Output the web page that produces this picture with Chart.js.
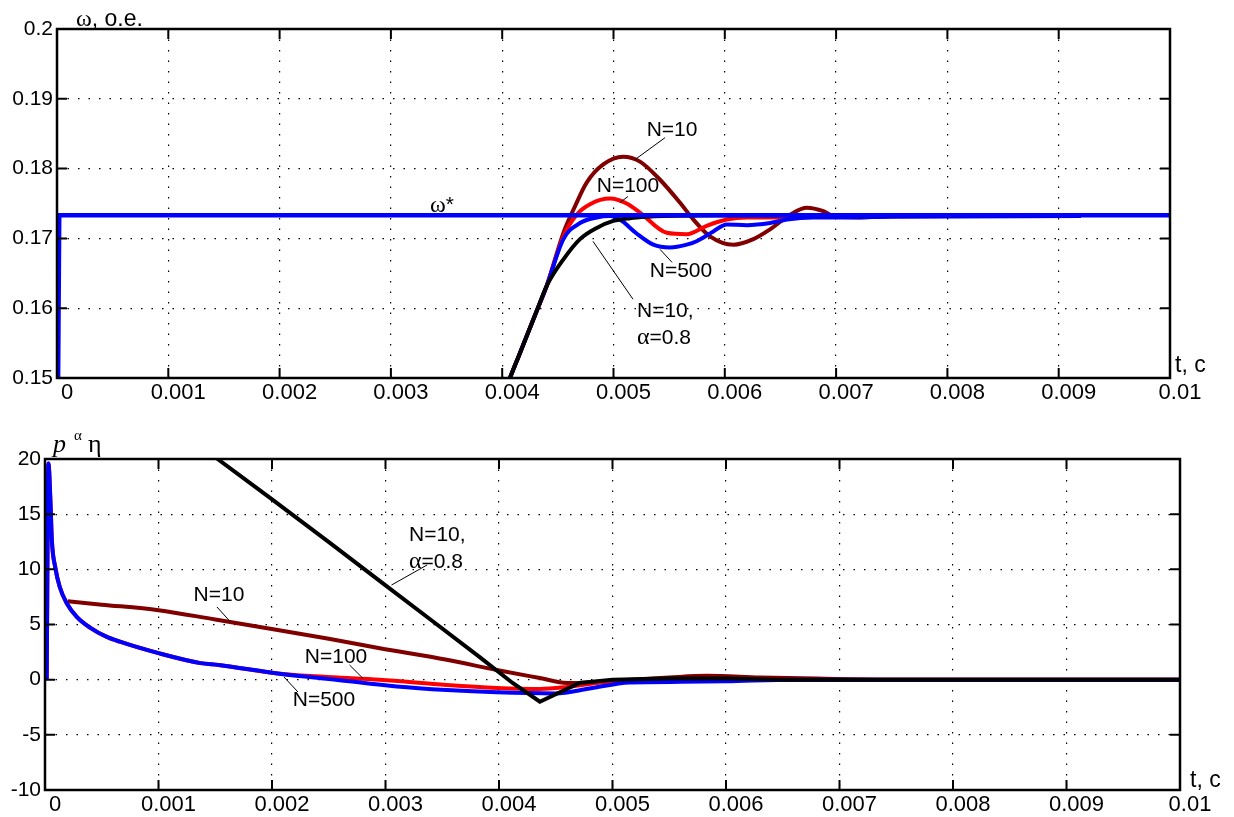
<!DOCTYPE html>
<html>
<head>
<meta charset="utf-8">
<script src="https://cdn.jsdelivr.net/npm/chart.js@4.4.1/dist/chart.umd.min.js"></script>
<style>
  html, body { margin: 0; padding: 0; background: #fff; overflow: hidden; }
  canvas { position: absolute; left: 0; }
  #top { top: 0; }
  #bottom { top: 408px; }
</style>
</head>
<body>
<canvas id="top" width="1234" height="408"></canvas>
<canvas id="bottom" width="1234" height="409"></canvas>
<script>
// ---- top panel: omega, o.e. ----
const tStar = [0.00001, 0.00002, 0.01];
const wStar = [0.15, 0.1733, 0.1733];

const tW10 = [0.004, 0.00407, 0.00415, 0.0043, 0.0044, 0.00455, 0.004654, 0.004759, 0.004908, 0.005088, 0.005238, 0.005418, 0.005598, 0.005718, 0.005867, 0.006077, 0.006257, 0.006407, 0.006587, 0.006737, 0.006886, 0.006976, 0.0072, 0.0075, 0.0092];
const wN10 = [0.1468, 0.15, 0.1532, 0.1592, 0.1632, 0.1708, 0.1746, 0.1780, 0.1806, 0.1817, 0.1810, 0.1784, 0.1751, 0.1727, 0.1703, 0.1691, 0.1699, 0.1713, 0.1734, 0.1744, 0.1739, 0.1732, 0.1730, 0.1732, 0.1733];

const tW100 = [0.004, 0.00407, 0.00415, 0.0043, 0.0044, 0.00455, 0.004669, 0.004789, 0.004969, 0.005118, 0.005238, 0.005478, 0.005658, 0.005837, 0.006017, 0.006197, 0.006377, 0.0068, 0.0092];
const wN100 = [0.1468, 0.15, 0.1532, 0.1592, 0.1632, 0.1703, 0.1734, 0.1749, 0.1757, 0.1750, 0.1737, 0.1708, 0.1706, 0.1718, 0.1727, 0.1730, 0.1730, 0.1731, 0.1733];

const tW500 = [0.004, 0.00407, 0.00415, 0.0043, 0.0044, 0.00455, 0.004699, 0.004849, 0.004969, 0.005058, 0.005208, 0.005358, 0.005508, 0.005658, 0.005747, 0.005897, 0.006017, 0.006197, 0.006407, 0.006557, 0.006796, 0.007096, 0.0075, 0.0092];
const wN500 = [0.1468, 0.15, 0.1532, 0.1592, 0.1632, 0.1699, 0.1722, 0.1730, 0.1732, 0.1727, 0.1707, 0.1691, 0.1687, 0.1691, 0.1696, 0.1710, 0.1720, 0.1719, 0.1722, 0.1727, 0.1730, 0.1730, 0.1731, 0.1732];

const tWa = [0.004, 0.00407, 0.00415, 0.0043, 0.0044, 0.00455, 0.004699, 0.004849, 0.004998, 0.005148, 0.005298, 0.005447, 0.0062, 0.0092];
const wAlpha = [0.1468, 0.15, 0.1532, 0.1592, 0.1632, 0.1670, 0.1699, 0.1715, 0.1725, 0.1729, 0.1731, 0.1732, 0.1733, 0.1733];

// ---- bottom panel: p^alpha eta ----
const tE500 = [0.000015, 0.00003, 0.00005, 0.00006, 0.00009, 0.00013, 0.00019, 0.00028, 0.0004, 0.00054, 0.00066, 0.001, 0.00137, 0.00153, 0.00205, 0.00258, 0.0031, 0.00354, 0.00398, 0.0045, 0.0048, 0.00515, 0.0056, 0.006, 0.0066, 0.01];
const eN500 = [0, 19.6, 15.6, 12.7, 10.2, 8.4, 6.95, 5.7, 4.7, 3.9, 3.44, 2.4, 1.5, 1.33, 0.56, -0.03, -0.62, -0.94, -1.15, -1.25, -0.8, -0.25, -0.2, -0.15, 0, 0];

const tE100 = [0.000015, 0.00003, 0.00005, 0.00006, 0.00009, 0.00013, 0.00019, 0.00028, 0.0004, 0.00054, 0.00066, 0.001, 0.00137, 0.00153, 0.00205, 0.0023, 0.00258, 0.00295, 0.00354, 0.00398, 0.00436, 0.0046, 0.00486, 0.005, 0.0055, 0.01];
const eN100 = [0, 19.6, 15.6, 12.7, 10.2, 8.4, 6.95, 5.7, 4.7, 3.9, 3.44, 2.4, 1.5, 1.33, 0.56, 0.35, 0.2, 0.0, -0.48, -0.75, -0.85, -0.66, -0.3, -0.15, 0, 0];

const tE10 = [0.0002, 0.0005, 0.001, 0.0015, 0.00205, 0.0025, 0.00295, 0.00354, 0.00398, 0.00436, 0.0046, 0.0048, 0.005, 0.0055, 0.00583, 0.0063, 0.0068, 0.0075, 0.01];
const eN10 = [7.1, 6.8, 6.3, 5.45, 4.5, 3.7, 2.85, 1.8, 0.88, 0.15, -0.3, -0.25, -0.1, 0.2, 0.35, 0.2, 0.1, 0, 0];

const tEa = [0.0012, 0.00152, 0.00198, 0.00251, 0.00298, 0.00339, 0.00383, 0.00412, 0.00436, 0.00471, 0.005, 0.0055, 0.006, 0.0065, 0.007, 0.01];
const eAlpha = [22.4, 20, 16.5, 12.4, 8.7, 5.5, 2.05, -0.3, -2.0, -0.3, 0, 0.1, 0.1, 0, 0, 0];

// annotation labels (data coords) and leader lines [t1, v1, t2, v2]
const topNotes = [
  { t: 0.005526, v: 0.18543, align: "center", lines: ["N=10"], lead: [0.005463, 0.18443, 0.005193, 0.18129] },
  { t: 0.00513, v: 0.17743, align: "center", lines: ["N=100"], lead: [0.005058, 0.17514, 0.00513, 0.1760] },
  { t: 0.005606, v: 0.16529, align: "center", lines: ["N=500"], lead: [0.005418, 0.16843, 0.005526, 0.16657] },
  { t: 0.005211, v: 0.15957, align: "left", lines: ["N=10,", "α=0.8"], lead: [0.004816, 0.16957, 0.005175, 0.16129] },
  { t: 0.003459, v: 0.17471, align: "center", lines: ["ω*"], lead: null },
];
const bottomNotes = [
  { t: 0.003207, v: 13.11, align: "left", lines: ["N=10,", "α=0.8"], lead: [0.003366, 10.39, 0.003053, 8.58] },
  { t: 0.001533, v: 7.67, align: "center", lines: ["N=10"], lead: [0.001515, 6.59, 0.001634, 5.23] },
  { t: 0.002564, v: 2.05, align: "center", lines: ["N=100"], lead: [0.002683, 1.33, 0.002802, 0.11] },
  { t: 0.002458, v: -1.84, align: "center", lines: ["N=500"], lead: [0.002106, 0.24, 0.002229, -1.12] },
];

const SANS = '21px "Liberation Sans", Arial, sans-serif';
const SERIF = '24px "Liberation Serif", "Times New Roman", serif';

const zip = (xs, ys) => xs.map((x, i) => ({ x, y: ys[i] }));

function drawRuns(ctx, text, x, y, align, font) {
  const parts = text.split(/([α-ω])/).filter(s => s.length).map(s => ({ s, font: /[α-ω]/.test(s) ? SERIF : (font || SANS) }));
  let w = 0;
  parts.forEach(p => { ctx.font = p.font; w += ctx.measureText(p.s).width; });
  let cx = align === "center" ? x - w / 2 : x;
  parts.forEach(p => { ctx.font = p.font; ctx.fillText(p.s, cx, y); cx += ctx.measureText(p.s).width; });
}

const framePlugin = {
  id: "frame",
  afterDatasetsDraw(chart) {
    const { ctx, chartArea: a, scales: { x, y } } = chart;
    const isTop = chart.canvas.id === "top";
    ctx.save();
    // box
    ctx.strokeStyle = "#000";
    ctx.lineWidth = 2.5;
    ctx.strokeRect(a.left, a.top, a.right - a.left, a.bottom - a.top);
    // inner ticks on all four sides
    const tl = 10;
    ctx.lineWidth = 2;
    ctx.beginPath();
    x.ticks.forEach(t => {
      const px = x.getPixelForValue(t.value);
      ctx.moveTo(px, a.bottom); ctx.lineTo(px, a.bottom - tl);
      ctx.moveTo(px, a.top); ctx.lineTo(px, a.top + tl);
    });
    y.ticks.forEach(t => {
      const py = y.getPixelForValue(t.value);
      ctx.moveTo(a.left, py); ctx.lineTo(a.left + tl, py);
      ctx.moveTo(a.right, py); ctx.lineTo(a.right - tl, py);
    });
    ctx.stroke();

    // notes
    ctx.fillStyle = "#000";
    ctx.textBaseline = "middle";
    ctx.lineWidth = 1;
    (isTop ? topNotes : bottomNotes).forEach(n => {
      const px = x.getPixelForValue(n.t), py = y.getPixelForValue(n.v);
      n.lines.forEach((ln, i) => drawRuns(ctx, ln, px, py + i * 27, n.align));
      if (n.lead) {
        ctx.beginPath();
        ctx.moveTo(x.getPixelForValue(n.lead[0]), y.getPixelForValue(n.lead[1]));
        ctx.lineTo(x.getPixelForValue(n.lead[2]), y.getPixelForValue(n.lead[3]));
        ctx.stroke();
      }
    });

    // axis titles
    ctx.textBaseline = "alphabetic";
    ctx.textAlign = "left";
    if (isTop) {
      drawRuns(ctx, "ω, o.e.", a.left + 19, a.top - 3, "left", '23px "Liberation Sans", Arial, sans-serif');
      ctx.font = '23px "Liberation Sans", Arial, sans-serif';
      ctx.fillText("t, c", a.right + 5, a.bottom - 6);
    } else {
      ctx.font = 'italic 26px "Liberation Serif", "Times New Roman", serif';
      ctx.fillText("p", a.left + 8, a.top - 7);
      ctx.font = '15px "Liberation Serif", "Times New Roman", serif';
      ctx.fillText("α", a.left + 29, a.top - 19);
      ctx.font = '26px "Liberation Serif", "Times New Roman", serif';
      ctx.fillText("η", a.left + 43, a.top - 7);
      ctx.font = '23px "Liberation Sans", Arial, sans-serif';
      ctx.fillText("t, c", a.right + 10, a.bottom - 3);
    }
    ctx.restore();
  }
};

function line(data, color, width, smooth) {
  return {
    data, borderColor: color, borderWidth: width, pointRadius: 0, fill: false,
    cubicInterpolationMode: smooth ? "monotone" : "default", tension: 0, clip: 0,
  };
}

function makeChart(id, datasets, yMin, yMax, yStep, yFmt, pad, yWidth, xHeight) {
  return new Chart(document.getElementById(id), {
    type: "line",
    data: { datasets },
    options: {
      responsive: false,
      animation: false,
      devicePixelRatio: 1,
      layout: { padding: pad },
      plugins: { legend: { display: false }, tooltip: { enabled: false } },
      scales: {
        x: {
          type: "linear", min: 0, max: 0.01,
          afterFit: s => { s.height = xHeight; },
          grid: { color: "#000", lineWidth: 1.2, drawTicks: false },
          border: { display: false, dash: [1.5, 9] },
          ticks: {
            stepSize: 0.001, autoSkip: false, maxRotation: 0, padding: 2, labelOffset: 10,
            color: "#000", font: { family: '"Liberation Sans", Arial, sans-serif', size: 22 },
            callback: v => String(Number(v.toFixed(3))),
          },
        },
        y: {
          type: "linear", min: yMin, max: yMax,
          afterFit: s => { s.width = yWidth; },
          grid: { color: "#000", lineWidth: 1.2, drawTicks: false },
          border: { display: false, dash: [1.5, 9] },
          ticks: {
            stepSize: yStep, padding: 4,
            color: "#000", font: { family: '"Liberation Sans", Arial, sans-serif', size: 21 },
            callback: yFmt,
          },
        },
      },
    },
    plugins: [framePlugin],
  });
}

// first dataset is drawn on top
makeChart("top", [
  line(zip(tStar, wStar), "#0000ff", 4.5, false),
  line(zip(tWa, wAlpha), "#000000", 4, true),
  line(zip(tW500, wN500), "#0000ff", 4, true),
  line(zip(tW100, wN100), "#ff0000", 4, true),
  line(zip(tW10, wN10), "#800000", 4, true),
], 0.15, 0.2, 0.01, v => String(Number(v.toFixed(2))),
  { left: 0, top: 29, right: 64, bottom: 0 }, 57, 30);

makeChart("bottom", [
  line(zip(tEa, eAlpha), "#000000", 4, false),
  line(zip(tE500, eN500), "#0000ff", 4, true),
  line(zip(tE100, eN100), "#ff0000", 4, true),
  line(zip(tE10, eN10), "#800000", 4, true),
], -10, 20, 5, v => String(v),
  { left: 0, top: 51, right: 54, bottom: 0 }, 45, 27);
</script>
</body>
</html>
